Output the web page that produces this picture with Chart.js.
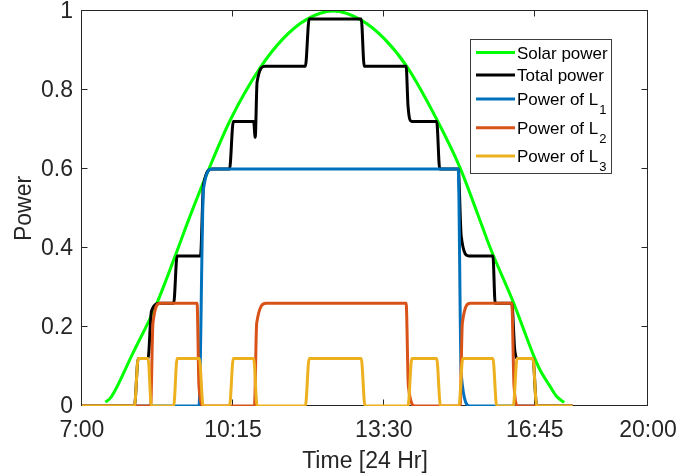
<!DOCTYPE html>
<html>
<head>
<meta charset="utf-8">
<script src="https://cdn.jsdelivr.net/npm/chart.js@4/dist/chart.umd.min.js"></script>
<style>
  html, body { margin: 0; padding: 0; background: #fff; }
  canvas { display: block; }
</style>
</head>
<body>
<canvas id="powerChart" width="697" height="476"></canvas>
<script>
// eixo x: posições dos ticks e os rótulos de hora
const tickPos = [0, 4, 8, 12, 15];
const tickLabels = ['7:00', '10:15', '13:30', '16:45', '20:00'];

// potência solar
const solarT = [0.62, 0.75, 0.88, 1.33, 1.94, 2.47, 2.82, 3.35, 3.93, 4.72, 5.33, 5.92, 6.66,
                7.40, 8.01, 8.62, 9.41, 10.02, 10.47, 10.82, 11.43, 11.98, 12.14, 12.41, 12.58, 12.78];
const solarP = [0.01, 0.02, 0.04, 0.13, 0.25, 0.38, 0.47, 0.597, 0.724, 0.856, 0.93, 0.977, 1.0,
                0.977, 0.93, 0.858, 0.724, 0.603, 0.49, 0.40, 0.263, 0.125, 0.091, 0.049, 0.024, 0.009];

// potência total
const totalT = [0, 1.39, 1.49, 1.75, 1.84, 2.07, 2.43, 2.52, 3.14, 3.22, 3.45, 3.91, 4.01, 4.55, 4.59,
                4.64, 4.85, 5.92, 6.02, 7.40, 7.48, 8.59, 8.64, 8.74, 9.40, 9.48, 9.97, 10.05, 10.25,
                10.89, 10.95, 11.39, 11.47, 11.55, 11.95, 12.05, 13.0];
const totalP = [0, 0, 0.12, 0.12, 0.24, 0.26, 0.26, 0.38, 0.38, 0.56, 0.6, 0.6, 0.72, 0.72, 0.68,
                0.82, 0.86, 0.86, 0.98, 0.98, 0.86, 0.86, 0.76, 0.72, 0.72, 0.6, 0.6, 0.43, 0.38,
                0.38, 0.26, 0.26, 0.14, 0.12, 0.12, 0, 0];

// carga L1
const l1T = [0, 3.10, 3.22, 3.45, 9.97, 10.05, 10.28, 13.0];
const l1P = [0, 0, 0.55, 0.6, 0.6, 0.08, 0, 0];

// carga L2
const l2T = [0, 1.82, 1.88, 2.07, 3.05, 3.10, 3.22, 4.57, 4.63, 4.88, 8.59, 8.65, 8.83,
             10.02, 10.08, 10.29, 11.39, 11.45, 11.56, 13.0];
const l2P = [0, 0, 0.21, 0.26, 0.26, 0.05, 0, 0, 0.21, 0.26, 0.26, 0.05, 0,
             0, 0.21, 0.26, 0.26, 0.05, 0, 0];

// carga L3
const l3T = [0, 1.39, 1.49, 1.75, 1.84, 2.43, 2.52, 3.11, 3.21, 3.91, 4.01, 4.55, 4.64,
             5.92, 6.02, 7.40, 7.50, 8.64, 8.74, 9.40, 9.50, 9.99, 10.09, 10.89, 10.99,
             11.43, 11.53, 11.95, 12.05, 13.0];
const l3P = [0, 0, 0.12, 0.12, 0, 0, 0.12, 0.12, 0, 0, 0.12, 0.12, 0,
             0, 0.12, 0.12, 0, 0, 0.12, 0.12, 0, 0, 0.12, 0.12, 0,
             0, 0.12, 0.12, 0, 0];

const legendNames = ['Solar power', 'Total power', 'Power of L', 'Power of L', 'Power of L'];
const legendSubs = ['', '', '1', '2', '3'];

const FONT = "'Liberation Sans', Arial, Helvetica, sans-serif";
const AXIS_COLOR = '#262626';

function pts(ts, ps) {
    return ts.map((t, i) => ({ x: t, y: ps[i] }));
}

// moldura do eixo com ticks para dentro (estilo matlab)
const framePlugin = {
    id: 'frame',
    beforeDatasetsDraw(chart) {
        const { ctx, chartArea: a, scales } = chart;
        const l = Math.round(a.left) - 0.5, r = Math.round(a.right) - 0.5;
        const t = Math.round(a.top) - 0.5, b = Math.round(a.bottom) - 0.5;
        ctx.save();
        ctx.strokeStyle = AXIS_COLOR;
        ctx.lineWidth = 1;
        ctx.strokeRect(l, t, r - l, b - t);
        ctx.beginPath();
        tickPos.forEach(v => {
            const px = Math.round(scales.x.getPixelForValue(v)) - 0.5;
            ctx.moveTo(px, b); ctx.lineTo(px, b - 6);
            ctx.moveTo(px, t); ctx.lineTo(px, t + 6);
        });
        scales.y.ticks.forEach(tk => {
            const py = Math.round(scales.y.getPixelForValue(tk.value)) - 0.5;
            ctx.moveTo(l, py); ctx.lineTo(l + 6, py);
            ctx.moveTo(r, py); ctx.lineTo(r - 6, py);
        });
        ctx.stroke();
        ctx.restore();
    }
};

// legenda dentro do gráfico, com subscrito
const legendPlugin = {
    id: 'boxLegend',
    afterDatasetsDraw(chart) {
        const ctx = chart.ctx;
        const box = { x: 470.5, y: 39.5, w: 141, h: 134 };
        const rowY = [52.5, 75, 99, 127.7, 156];
        ctx.save();
        ctx.fillStyle = '#fff';
        ctx.fillRect(box.x, box.y, box.w, box.h);
        ctx.strokeStyle = '#3c3c3c';
        ctx.lineWidth = 1;
        ctx.strokeRect(box.x, box.y, box.w, box.h);
        chart.data.datasets.forEach((ds, i) => {
            const y = rowY[i];
            ctx.strokeStyle = ds.borderColor;
            ctx.lineWidth = 3;
            ctx.beginPath();
            ctx.moveTo(476, y);
            ctx.lineTo(515, y);
            ctx.stroke();
            ctx.fillStyle = '#000';
            ctx.textBaseline = 'alphabetic';
            ctx.textAlign = 'left';
            ctx.font = '17px ' + FONT;
            const base = y + 6;
            ctx.fillText(legendNames[i], 517, base);
            if (legendSubs[i]) {
                const w = ctx.measureText(legendNames[i]).width;
                ctx.font = '13px ' + FONT;
                ctx.fillText(legendSubs[i], 517 + w + 1, base + 9);
            }
        });
        ctx.restore();
    }
};

const ctx = document.getElementById('powerChart').getContext('2d');

const lineDefaults = {
    borderWidth: 3,
    pointRadius: 0,
    fill: false,
    cubicInterpolationMode: 'monotone'
};

new Chart(ctx, {
    type: 'line',
    data: {
        datasets: [
            Object.assign({ label: 'Solar power', data: pts(solarT, solarP), borderColor: '#00ff00', order: 5 }, lineDefaults),
            Object.assign({ label: 'Total power', data: pts(totalT, totalP), borderColor: '#000000', order: 4 }, lineDefaults),
            Object.assign({ label: 'Power of L1', data: pts(l1T, l1P), borderColor: '#0072bd', order: 3 }, lineDefaults),
            Object.assign({ label: 'Power of L2', data: pts(l2T, l2P), borderColor: '#d95319', order: 2 }, lineDefaults),
            Object.assign({ label: 'Power of L3', data: pts(l3T, l3P), borderColor: '#edb120', order: 1 }, lineDefaults)
        ]
    },
    options: {
        responsive: false,
        animation: false,
        devicePixelRatio: 1,
        layout: { padding: { top: 11, right: 49, left: 0, bottom: 0 } },
        plugins: {
            legend: { display: false },
            tooltip: { enabled: false }
        },
        scales: {
            x: {
                type: 'linear',
                min: 0,
                max: 15,
                afterBuildTicks: (scale) => { scale.ticks = tickPos.map(v => ({ value: v })); },
                afterFit: (scale) => { scale.height = 70; },
                grid: { display: false, drawTicks: false },
                border: { display: false },
                ticks: {
                    autoSkip: false,
                    maxRotation: 0,
                    padding: 11,
                    color: AXIS_COLOR,
                    font: { family: FONT, size: 23 },
                    callback: (value, index) => tickLabels[index]
                },
                title: {
                    display: true,
                    text: 'Time [24 Hr]',
                    color: AXIS_COLOR,
                    font: { family: FONT, size: 23 },
                    padding: { top: 0, bottom: 1 }
                }
            },
            y: {
                min: 0,
                max: 1,
                afterFit: (scale) => {
                    scale.width = 82;
                    // sem folga extra em cima/baixo, a área do gráfico fica como no original
                    scale.paddingTop = 0;
                    scale.paddingBottom = 0;
                },
                grid: { display: false, drawTicks: false },
                border: { display: false },
                ticks: {
                    stepSize: 0.2,
                    padding: 9,
                    labelOffset: 1,
                    color: AXIS_COLOR,
                    font: { family: FONT, size: 23, lineHeight: 1 },
                    callback: (value) => String(Number(value.toFixed(1)))
                },
                title: {
                    display: true,
                    text: 'Power',
                    color: AXIS_COLOR,
                    font: { family: FONT, size: 23 },
                    padding: { top: 11, bottom: 0 }
                }
            }
        }
    },
    plugins: [framePlugin, legendPlugin]
});
</script>
</body>
</html>
